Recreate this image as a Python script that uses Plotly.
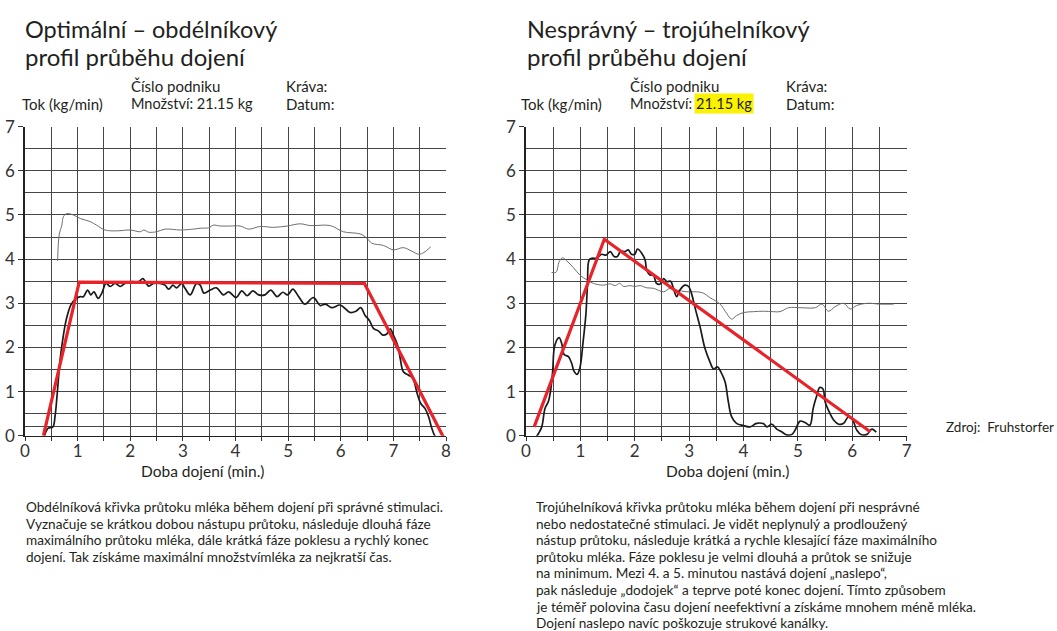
import plotly.graph_objects as go

W, H = 1057, 631
FONT = "Lato"

# ---------------- data: left chart (optimal, rectangular) ----------------
left_flow_x = [0.37, 0.44, 0.53, 0.57, 0.61, 0.67, 0.73, 0.79, 0.87, 0.95, 1.05, 1.11, 1.19, 1.25, 1.31,
               1.39, 1.46, 1.54, 1.62, 1.71, 1.81, 1.90, 2.03, 2.16, 2.24, 2.35, 2.44, 2.57, 2.66, 2.73,
               2.81, 2.88, 2.98, 3.04, 3.14, 3.26, 3.33, 3.40, 3.52, 3.64, 3.77, 3.87, 4.01, 4.12, 4.22,
               4.33, 4.44, 4.56, 4.67, 4.79, 4.90, 4.99, 5.09, 5.20, 5.32, 5.48, 5.61, 5.71, 5.83, 5.99,
               6.18, 6.29, 6.38, 6.46, 6.55, 6.62, 6.72, 6.80, 6.88, 6.94, 7.00, 7.08, 7.13, 7.19, 7.29,
               7.37, 7.45, 7.52, 7.60, 7.67, 7.73, 7.80, 7.89, 7.99]
left_flow_y = [0.00, 0.17, 0.20, 0.43, 0.92, 1.75, 2.28, 2.66, 2.96, 3.09, 3.15, 3.15, 3.30, 3.19, 3.26,
               3.11, 3.23, 3.45, 3.38, 3.45, 3.38, 3.45, 3.49, 3.49, 3.56, 3.39, 3.45, 3.45, 3.41, 3.32,
               3.41, 3.35, 3.45, 3.34, 3.19, 3.45, 3.41, 3.23, 3.30, 3.35, 3.19, 3.26, 3.13, 3.28, 3.17,
               3.28, 3.19, 3.19, 3.30, 3.15, 3.25, 3.19, 3.32, 3.15, 2.98, 3.13, 2.95, 2.98, 2.90, 2.96,
               2.79, 2.82, 2.90, 2.73, 2.60, 2.43, 2.37, 2.28, 2.31, 2.42, 2.28, 2.05, 1.75, 1.45, 1.37,
               1.30, 0.96, 0.73, 0.62, 0.43, 0.17, -0.02, -0.06, -0.06]

left_thin_x = [0.62, 0.65, 0.70, 0.73, 0.79, 0.92, 1.05, 1.24, 1.36, 1.52, 1.74, 2.00, 2.19, 2.26, 2.35,
               2.50, 2.66, 2.95, 3.20, 3.33, 3.49, 3.58, 3.71, 3.90, 4.09, 4.25, 4.47, 4.72, 4.98, 5.23,
               5.42, 5.80, 6.05, 6.37, 6.50, 6.59, 6.81, 7.00, 7.19, 7.35, 7.48, 7.58, 7.71]
left_thin_y = [3.96, 4.55, 4.77, 4.96, 5.03, 5.00, 4.92, 4.85, 4.77, 4.66, 4.64, 4.66, 4.62, 4.66, 4.61,
               4.62, 4.68, 4.66, 4.68, 4.70, 4.71, 4.77, 4.75, 4.75, 4.75, 4.68, 4.74, 4.72, 4.75, 4.80,
               4.76, 4.76, 4.62, 4.57, 4.47, 4.36, 4.31, 4.21, 4.26, 4.18, 4.11, 4.15, 4.28]

left_profile_x = [0.35, 1.03, 6.45, 8.01]
left_profile_y = [0.00, 3.48, 3.45, -0.17]

# ---------------- data: right chart (incorrect, triangular) ----------------
right_flow_x = [0.17, 0.23, 0.29, 0.35, 0.41, 0.45, 0.49, 0.53, 0.61, 0.66, 0.70, 0.78, 0.84, 0.88, 0.94,
                0.99, 1.05, 1.10, 1.13, 1.16, 1.21, 1.30, 1.39, 1.47, 1.55, 1.62, 1.68, 1.74, 1.82, 1.88,
                1.94, 2.00, 2.05, 2.13, 2.19, 2.22, 2.28, 2.34, 2.40, 2.46, 2.53, 2.59, 2.66, 2.71, 2.77,
                2.83, 2.92, 2.99, 3.05, 3.11, 3.20, 3.29, 3.38, 3.45, 3.52, 3.58, 3.66, 3.72, 3.78, 3.87,
                4.00, 4.12, 4.24, 4.37, 4.43, 4.52, 4.61, 4.70, 4.79, 4.89, 4.95, 5.04, 5.13, 5.22, 5.28,
                5.35, 5.40, 5.46, 5.50, 5.56, 5.66, 5.75, 5.84, 5.93, 6.01, 6.08, 6.17, 6.27, 6.36, 6.44]
right_flow_y = [-0.06, 0.05, 0.20, 0.62, 0.77, 1.00, 1.45, 2.05, 2.22, 2.07, 1.84, 1.79, 1.64, 1.47, 1.39,
                1.53, 2.13, 2.73, 3.41, 3.98, 4.02, 4.02, 4.11, 4.09, 4.17, 4.06, 4.06, 4.18, 4.17, 4.21,
                4.11, 4.11, 4.23, 4.13, 3.98, 3.75, 3.64, 3.64, 3.45, 3.43, 3.56, 3.49, 3.50, 3.34, 3.15,
                3.30, 3.41, 3.38, 3.19, 2.89, 2.47, 1.98, 1.68, 1.51, 1.56, 1.45, 1.22, 0.77, 0.43, 0.28,
                0.23, 0.20, 0.28, 0.27, 0.20, 0.26, 0.15, 0.09, 0.02, 0.03, 0.13, 0.33, 0.30, 0.24, 0.62,
                0.92, 1.09, 1.06, 0.77, 0.58, 0.35, 0.26, 0.28, 0.43, 0.35, 0.13, 0.02, 0.03, 0.15, 0.08]

right_thin_x = [0.47, 0.55, 0.61, 0.67, 0.75, 0.87, 0.99, 1.12, 1.24, 1.42, 1.55, 1.64, 1.72, 1.80, 1.91,
                2.00, 2.10, 2.22, 2.34, 2.53, 2.65, 2.77, 2.96, 3.14, 3.26, 3.38, 3.57, 3.69, 3.78, 3.87,
                4.00, 4.18, 4.37, 4.55, 4.67, 4.83, 5.04, 5.32, 5.44, 5.56, 5.68, 5.84, 5.96, 6.08, 6.27,
                6.51, 6.76]
right_thin_y = [3.70, 3.70, 3.94, 4.03, 3.96, 3.81, 3.64, 3.53, 3.45, 3.41, 3.44, 3.40, 3.45, 3.38, 3.40,
                3.38, 3.40, 3.35, 3.34, 3.26, 3.34, 3.30, 3.26, 3.26, 3.23, 3.13, 2.98, 2.77, 2.64, 2.72,
                2.79, 2.81, 2.82, 2.81, 2.81, 2.90, 2.90, 2.90, 2.98, 2.82, 2.92, 3.00, 2.87, 2.95, 3.00,
                2.98, 2.98]

right_profile_x = [0.15, 1.44, 6.33]
right_profile_y = [0.20, 4.45, 0.09]

# ---------------- texts ----------------
left_title = ["Optimální – obdélníkový", "profil průběhu dojení"]
right_title = ["Nesprávný – trojúhelníkový", "profil průběhu dojení"]
y_title = "Tok (kg/min)"
x_title = "Doba dojení (min.)"
info_a = "Číslo podniku"
info_b_label = "Množství:"
info_b_value = "21.15 kg"
info_c = "Kráva:"
info_d = "Datum:"
source_text = "Zdroj:  Fruhstorfer"
left_para = [
    "Obdélníková křivka průtoku mléka během dojení při správné stimulaci.",
    "Vyznačuje se krátkou dobou nástupu průtoku, následuje dlouhá fáze",
    "maximálního průtoku mléka, dále krátká fáze poklesu a rychlý konec",
    "dojení. Tak získáme maximální množstvímléka za nejkratší čas.",
]
right_para = [
    "Trojúhelníková křivka průtoku mléka během dojení při nesprávné",
    "nebo nedostatečné stimulaci. Je vidět neplynulý a prodloužený",
    "nástup průtoku, následuje krátká a rychle klesající fáze maximálního",
    "průtoku mléka. Fáze poklesu je velmi dlouhá a průtok se snižuje",
    "na minimum. Mezi 4. a 5. minutou nastává dojení „naslepo“,",
    "pak následuje „dodojek“ a teprve poté konec dojení. Tímto způsobem",
    "je téměř polovina času dojení neefektivní a získáme mnohem méně mléka.",
    "Dojení naslepo navíc poškozuje strukové kanálky.",
]

# ---------------- figure ----------------
TXT = "#231f20"
GRID = "#454545"
RED = "#e8232a"

fig = go.Figure()

def add_chart(xa, ya, fx, fy, tx, ty, px, py):
    fig.add_trace(go.Scatter(x=tx, y=ty, mode="lines", xaxis=xa, yaxis=ya,
                             line=dict(color="#6d6d6d", width=1), line_shape="spline",
                             showlegend=False, hoverinfo="skip"))
    fig.add_trace(go.Scatter(x=fx, y=fy, mode="lines", xaxis=xa, yaxis=ya,
                             line=dict(color="#1a1a1a", width=1.7), line_shape="spline",
                             showlegend=False, hoverinfo="skip"))
    fig.add_trace(go.Scatter(x=px, y=py, mode="lines", xaxis=xa, yaxis=ya,
                             line=dict(color=RED, width=3.2),
                             showlegend=False, hoverinfo="skip"))

add_chart("x", "y", left_flow_x, left_flow_y, left_thin_x, left_thin_y, left_profile_x, left_profile_y)
add_chart("x2", "y2", right_flow_x, right_flow_y, right_thin_x, right_thin_y, right_profile_x, right_profile_y)

ydom = [(H - 435.7) / H, (H - 126.7) / H]
tickfont = dict(family=FONT, size=17, color="#333333")

def xaxis(domain, rng, anchor):
    return dict(domain=domain, range=rng, anchor=anchor, dtick=1, tick0=0,
                showgrid=True, gridcolor=GRID, gridwidth=1,
                showline=True, linecolor="#222222", linewidth=1.2, mirror=False,
                ticks="outside", ticklen=4, tickcolor="#333333", tickwidth=1,
                ticklabelstandoff=-4,
                minor=dict(dtick=0.5, tick0=0, showgrid=True, gridcolor=GRID, gridwidth=1,
                           ticks="outside", ticklen=4, tickcolor="#333333"),
                zeroline=False, tickfont=tickfont, fixedrange=True, automargin=False)

def yaxis(anchor):
    return dict(domain=ydom, range=[0, 7], anchor=anchor, dtick=1, tick0=0,
                showgrid=True, gridcolor=GRID, gridwidth=1,
                showline=True, linecolor="#222222", linewidth=1.5,
                ticks="outside", ticklen=5, tickcolor="#333333", tickwidth=1,
                minor=dict(tickmode="array",
                           tickvals=[0.2, 0.5, 1.5, 2.5, 3.5, 4.5, 5.5, 6.5],
                           showgrid=True, gridcolor=GRID, gridwidth=1, ticks=""),
                zeroline=False, tickfont=tickfont, fixedrange=True, automargin=False)

fig.update_layout(
    width=W, height=H, margin=dict(l=0, r=0, t=0, b=0, pad=0, autoexpand=False),
    paper_bgcolor="white", plot_bgcolor="white",
    xaxis=xaxis([25 / W, 446 / W], [0, 8], "y"),
    yaxis=yaxis("x"),
    xaxis2=xaxis([526 / W, 906.7 / W], [0, 7], "y2"),
    yaxis2=yaxis("x2"),
    font=dict(family=FONT, color=TXT),
)

ann = []

def txt(text, px, py, size, **kw):
    d = dict(text=text, x=px / W, y=1 - py / H, xref="paper", yref="paper",
             xanchor=kw.pop("xanchor", "left"), yanchor="middle", showarrow=False,
             font=dict(family=FONT, size=size, color=TXT))
    d.update(kw)
    ann.append(d)

for off, title in ((0, left_title), (502, right_title)):
    txt(title[0], 23 + off, 29, 23.5)
    txt(title[1], 23 + off, 57, 24)

for off, infox, kravax, tokx in ((0, 129, 284, 20), (500, 628, 784, 519)):
    txt(y_title, tokx, 104, 15)
    txt(info_a, infox, 86, 15)
    txt(info_c, kravax, 86, 15)
    txt(info_d, kravax, 104, 15)

txt(info_b_label + " " + info_b_value, 129, 104, 14.5)
txt(info_b_label, 628, 104, 14.5)
txt(info_b_value, 694, 104, 14.5, bgcolor="#fbf200", borderpad=1)

txt(x_title, 202, 471, 15.5, xanchor="center")
txt(x_title, 727, 471, 15.5, xanchor="center")

txt(source_text, 1056, 427, 13.5, xanchor="right")

for i, line in enumerate(left_para):
    txt(line, 24, 507 + i * 16.7, 13.6)
for i, line in enumerate(right_para):
    txt(line, 534, 507 + i * 16.6, 13.6)

fig.update_layout(annotations=ann)
fig.write_html("out.html")
